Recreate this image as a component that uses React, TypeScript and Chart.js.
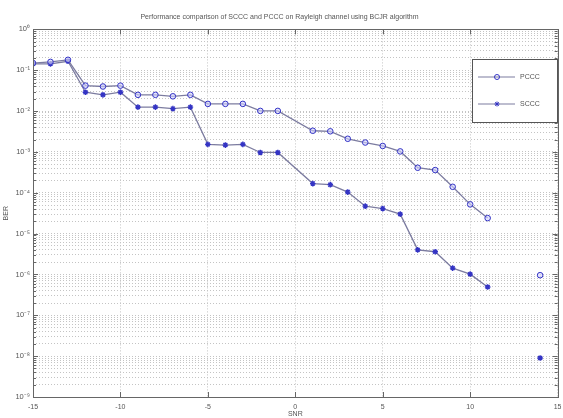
import React, { useEffect, useRef } from 'react';
import { Chart, registerables } from 'chart.js';

Chart.register(...registerables);

const TITLE = 'Performance comparison of SCCC and PCCC on Rayleigh channel using BCJR algorithm';
const X_TITLE = 'SNR';
const Y_TITLE = 'BER';

const snrDb = [-15, -14, -13, -12, -11, -10, -9, -8, -7, -6, -5, -4, -3, -2, -1, 1, 2, 3, 4, 5, 6, 7, 8, 9, 10, 11, 12, 13, 14];
const pcccBer = [0.15, 0.16, 0.18, 0.042, 0.04, 0.042, 0.025, 0.025, 0.023, 0.025, 0.015, 0.015, 0.015, 0.0101, 0.0101, 0.0033, 0.0032, 0.0021, 0.0017, 0.0014, 0.00103, 4.1e-4, 3.6e-4, 1.4e-4, 5.2e-5, 2.4e-5, null, null, 9.6e-7];
const scccBer = [0.143, 0.143, 0.166, 0.029, 0.025, 0.029, 0.0125, 0.0125, 0.0115, 0.0125, 0.00153, 0.00147, 0.00153, 0.00097, 0.00097, 1.68e-4, 1.58e-4, 1.04e-4, 4.7e-5, 4.1e-5, 3.0e-5, 4.0e-6, 3.6e-6, 1.43e-6, 1.02e-6, 4.95e-7, null, null, 9e-9];

const xTicks = [-15, -10, -5, 0, 5, 10, 15];
const yExponents = [0, -1, -2, -3, -4, -5, -6, -7, -8, -9];
const seriesNames = ['PCCC', 'SCCC'];

const SUP: Record<string, string> = {
  '-': '\u207B', '0': '\u2070', '1': '\u00B9', '2': '\u00B2', '3': '\u00B3', '4': '\u2074',
  '5': '\u2075', '6': '\u2076', '7': '\u2077', '8': '\u2078', '9': '\u2079',
};
const powLabel = (e: number) => '10' + String(e).split('').map((c) => SUP[c]).join('');

const LINE = '#7c7ca0';
const MARK = '#3434c4';
const TEXT = '#555';
const FONT = "'Liberation Sans', Arial, sans-serif";

export default function App() {
  const ref = useRef<HTMLCanvasElement | null>(null);

  useEffect(() => {
    if (!ref.current) return;
    const toPts = (arr: (number | null)[]) => snrDb.map((x, i) => ({ x, y: arr[i] }));
    const minExp = Math.min(...yExponents);
    const maxExp = Math.max(...yExponents);

    const boxPlugin = {
      id: 'boxAndLegend',
      afterDraw(chart: any) {
        const { ctx, chartArea: a, scales } = chart;
        ctx.save();
        ctx.strokeStyle = '#666';
        ctx.lineWidth = 1;
        ctx.strokeRect(Math.round(a.left) + 0.5, Math.round(a.top) + 0.5, Math.round(a.right - a.left), Math.round(a.bottom - a.top));
        ctx.beginPath();
        xTicks.forEach((v) => {
          const px = Math.round(scales.x.getPixelForValue(v)) + 0.5;
          ctx.moveTo(px, a.bottom); ctx.lineTo(px, a.bottom - 5);
          ctx.moveTo(px, a.top); ctx.lineTo(px, a.top + 5);
        });
        for (let e = minExp; e <= maxExp; e++) {
          for (let m = 1; m <= 9; m++) {
            const v = m * Math.pow(10, e);
            if (v > Math.pow(10, maxExp) + 1e-12) continue;
            const py = Math.round(scales.y.getPixelForValue(v)) + 0.5;
            const len = m === 1 ? 5 : 3;
            ctx.moveTo(a.left, py); ctx.lineTo(a.left + len, py);
            ctx.moveTo(a.right, py); ctx.lineTo(a.right - len, py);
          }
        }
        ctx.stroke();

        const lx = 472, ly = 59, lw = 85, lh = 63;
        ctx.fillStyle = '#fff';
        ctx.fillRect(lx, ly, lw, lh);
        ctx.strokeStyle = '#555';
        ctx.strokeRect(lx + 0.5, ly + 0.5, lw, lh);
        const rows = [77, 104];
        chart.data.datasets.forEach((ds: any, i: number) => {
          const y = rows[i];
          ctx.strokeStyle = LINE;
          ctx.lineWidth = 1.2;
          ctx.beginPath();
          ctx.moveTo(478, y); ctx.lineTo(515, y);
          ctx.stroke();
          ctx.strokeStyle = MARK;
          ctx.lineWidth = 1;
          if (i === 0) {
            ctx.beginPath();
            ctx.arc(497, y, 2.5, 0, Math.PI * 2);
            ctx.stroke();
          } else {
            ctx.beginPath();
            ctx.moveTo(494.5, y); ctx.lineTo(499.5, y);
            ctx.moveTo(497, y - 2.5); ctx.lineTo(497, y + 2.5);
            ctx.moveTo(495.2, y - 1.8); ctx.lineTo(498.8, y + 1.8);
            ctx.moveTo(495.2, y + 1.8); ctx.lineTo(498.8, y - 1.8);
            ctx.stroke();
          }
          ctx.fillStyle = TEXT;
          ctx.font = `7px ${FONT}`;
          ctx.textBaseline = 'middle';
          ctx.textAlign = 'left';
          ctx.fillText(ds.label, 520, y);
        });
        ctx.restore();
      },
    };

    const chart = new Chart(ref.current, {
      type: 'line',
      data: {
        datasets: [
          {
            label: seriesNames[0],
            data: toPts(pcccBer),
            borderColor: LINE,
            borderWidth: 1.3,
            pointStyle: 'circle',
            pointRadius: 2.8,
            pointBorderWidth: 1,
            pointBorderColor: MARK,
            pointBackgroundColor: 'rgba(210,210,255,0.6)',
            spanGaps: false,
            tension: 0,
          },
          {
            label: seriesNames[1],
            data: toPts(scccBer),
            borderColor: LINE,
            borderWidth: 1.3,
            pointStyle: 'star',
            pointRadius: 2.8,
            pointBorderWidth: 1.4,
            pointBorderColor: MARK,
            pointBackgroundColor: MARK,
            spanGaps: false,
            tension: 0,
          },
        ],
      },
      options: {
        animation: false,
        responsive: false,
        maintainAspectRatio: false,
        layout: { padding: { left: 0, right: 4, top: 0, bottom: 0 } },
        plugins: {
          legend: { display: false },
          tooltip: { enabled: false },
          title: {
            display: true,
            text: TITLE,
            color: TEXT,
            font: { family: FONT, size: 7, weight: 'normal' },
            padding: { top: 13, bottom: 8 },
          },
        },
        scales: {
          x: {
            type: 'linear',
            min: -15,
            max: 15,
            afterBuildTicks: (s: any) => { s.ticks = xTicks.map((v) => ({ value: v })); },
            afterFit: (s: any) => { s.height = 21; s.paddingRight = 0; s.paddingLeft = 0; },
            ticks: { color: TEXT, font: { family: FONT, size: 7 }, padding: 6, autoSkip: false, maxRotation: 0 },
            grid: { color: '#c4c4c4', lineWidth: 1, drawTicks: false, borderDash: [1, 2] },
            border: { display: false, dash: [1, 2] },
            title: { display: true, text: X_TITLE, color: TEXT, font: { family: FONT, size: 7 }, padding: 0 },
          },
          y: {
            type: 'logarithmic',
            min: Math.pow(10, minExp),
            max: Math.pow(10, maxExp),
            afterBuildTicks: (s: any) => {
              const t: any[] = [];
              for (let e = minExp; e <= maxExp; e++) {
                for (let m = 1; m <= 9; m++) {
                  const v = m * Math.pow(10, e);
                  if (v > Math.pow(10, maxExp) * 1.0001) continue;
                  t.push({ value: v, major: m === 1 });
                }
              }
              s.ticks = t;
            },
            afterFit: (s: any) => { s.width = 33; },
            ticks: {
              color: TEXT,
              font: { family: FONT, size: 7.5 },
              padding: 3,
              autoSkip: false,
              callback: (v: any) => {
                const e = Math.log10(Number(v));
                return Math.abs(e - Math.round(e)) < 1e-6 ? powLabel(Math.round(e)) : '';
              },
            },
            grid: { color: '#c4c4c4', lineWidth: 1, drawTicks: false, borderDash: [1, 2] },
            border: { display: false, dash: [1, 2] },
            title: { display: true, text: Y_TITLE, color: TEXT, font: { family: FONT, size: 7 }, padding: 2 },
          },
        },
      },
      plugins: [boxPlugin],
    } as any);
    return () => chart.destroy();
  }, []);

  return (
    <div style={{ position: 'absolute', left: 0, top: 0, width: 563, height: 418, background: '#fff' }}>
      <canvas ref={ref} width={563} height={418} style={{ display: 'block', width: 563, height: 418 }} />
    </div>
  );
}
